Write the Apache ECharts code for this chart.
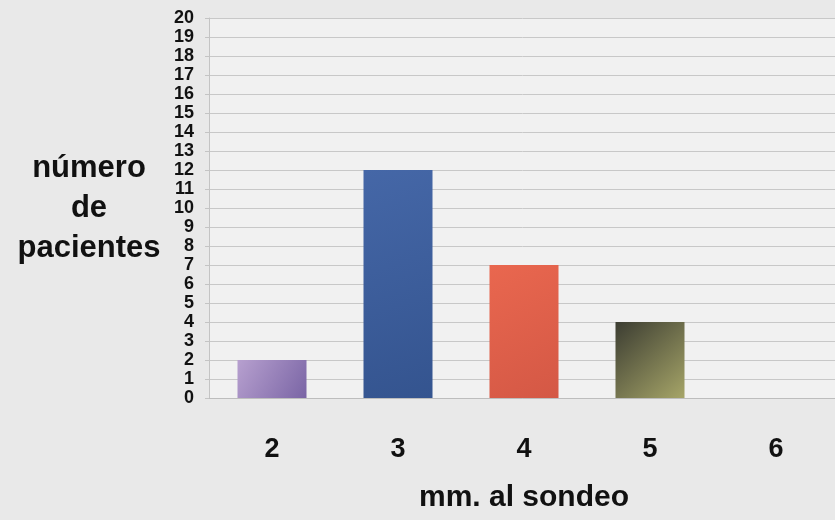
<!DOCTYPE html>
<html>
<head>
<meta charset="utf-8">
<script src="https://cdn.jsdelivr.net/npm/echarts@6/dist/echarts.min.js"></script>
<style>
  html, body { margin: 0; padding: 0; background: #e9e9e9; }
  #chart { width: 835px; height: 520px; }
</style>
</head>
<body>
<div id="chart"></div>
<script>
// Probing depth (mm) and number of patients at each depth
const categories = ['2', '3', '4', '5', '6'];
const patients = [2, 12, 7, 4, 0];
const yTicks = { min: 0, max: 20, interval: 1 };

// Fill for each bar: [start colour, end colour] of a diagonal gradient
const barFills = [
  ['#b7a0cf', '#7a65a5'],
  ['#4567a7', '#34548f'],
  ['#e9674f', '#d45845'],
  ['#3c3d32', '#a6a568']
];

const font = '"Liberation Sans", Arial, Helvetica, sans-serif';

function fillFor(i) {
  const f = barFills[i % barFills.length];
  return new echarts.graphic.LinearGradient(0, 0, 1, 1, [
    { offset: 0, color: f[0] },
    { offset: 1, color: f[1] }
  ]);
}

const chart = echarts.init(document.getElementById('chart'), null, { renderer: 'canvas' });

chart.setOption({
  backgroundColor: '#e9e9e9',
  animation: false,
  grid: {
    left: 209, top: 18, bottom: 122, width: 630,
    outerBoundsMode: 'none',
    containLabel: false,
    show: true, backgroundColor: '#f1f1f1', borderWidth: 0
  },
  xAxis: {
    type: 'category',
    data: categories,
    boundaryGap: true,
    axisLine: { show: true, lineStyle: { color: '#bdbdbd', width: 1 } },
    axisTick: { show: false },
    axisLabel: {
      margin: 38, color: '#111', fontFamily: font, fontWeight: 'bold', fontSize: 27
    },
    name: 'mm. al sondeo',
    nameLocation: 'middle',
    nameGap: 85,
    nameTextStyle: { color: '#111', fontFamily: font, fontWeight: 'bold', fontSize: 30 }
  },
  yAxis: {
    type: 'value',
    min: yTicks.min, max: yTicks.max, interval: yTicks.interval,
    axisLine: { show: true, lineStyle: { color: '#c4c4c4', width: 1 } },
    axisTick: { show: true, length: 4, lineStyle: { color: '#c4c4c4' } },
    splitLine: { show: true, lineStyle: { color: '#c8c8c8', width: 1 } },
    axisLabel: {
      margin: 15, color: '#111', fontFamily: font, fontWeight: 'bold', fontSize: 18
    },
    name: 'número\nde\npacientes',
    nameLocation: 'middle',
    nameRotate: 0,
    nameGap: 120,
    nameTextStyle: {
      color: '#111', fontFamily: font, fontWeight: 'bold', fontSize: 31,
      lineHeight: 40, align: 'center', verticalAlign: 'middle'
    }
  },
  series: [{
    type: 'bar',
    barWidth: 69,
    data: patients.map((v, i) => ({ value: v, itemStyle: { color: fillFor(i) } }))
  }]
});
</script>
</body>
</html>
